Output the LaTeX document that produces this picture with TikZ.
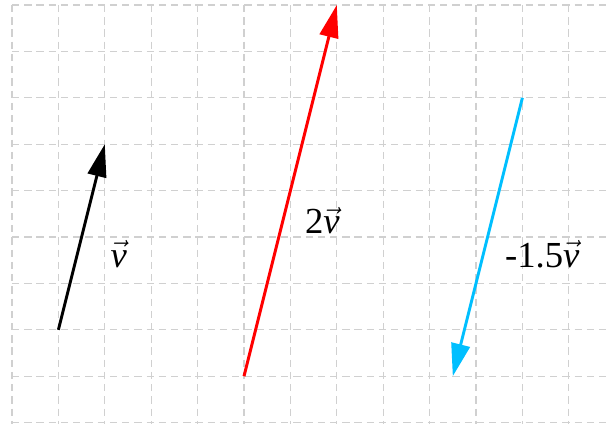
\documentclass[tikz,border=0pt]{standalone}
\usepackage{amsmath}
\usepackage{fontspec}
\setmainfont{Liberation Serif}
\usetikzlibrary{arrows.meta}
\newcommand\vecv{\ensuremath{\vec{\text{\itshape v}}}}
\tikzset{
  gridline/.style={draw={rgb,255:red,208;green,208;blue,208}, line width=0.8pt, dash pattern=on 4.5pt off 3pt},
  vecarrow/.style={line width=1.8pt, -{Triangle[length=20pt,width=11.5pt]}},
  lbl/.style={anchor=base west, inner sep=0pt, font=\fontsize{22.5}{26}\selectfont}
}
\definecolor{skyb}{RGB}{0,191,255}
\begin{document}
\begin{tikzpicture}
\useasboundingbox (-0.2586,-0.0086) rectangle (12.888,9.1078);
% grid
\foreach \x in {0,...,12} \draw[gridline] (\x,9) -- (\x,-0.1);
\foreach \y in {0,...,9} \draw[gridline] (0,\y) -- (12.95,\y);
% vectors
\coordinate (a0) at (1,2);
\coordinate (a1) at (2,6);
\coordinate (b0) at (5,1);
\coordinate (b1) at (7,9);
\coordinate (c0) at (11,7);
\coordinate (c1) at (9.5,1);
\draw[vecarrow, black] (a0) -- (a1);
\draw[vecarrow, red] (b0) -- (b1);
\draw[vecarrow, skyb] (c0) -- (c1);
% labels
\node[lbl] (la) at (2.12,3.353) {\vecv};
\node[lbl] (lb) at (6.31,4.065) {2\vecv};
\node[lbl] (lc) at (10.62,3.353) {-1.5\vecv};
\end{tikzpicture}
\end{document}
